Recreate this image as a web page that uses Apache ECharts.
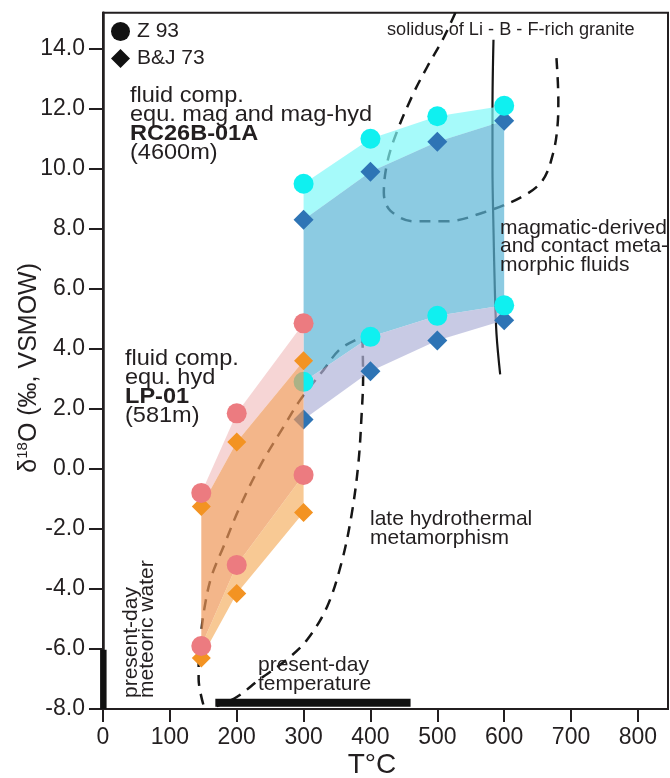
<!DOCTYPE html>
<html>
<head>
<meta charset="utf-8">
<script src="https://cdn.jsdelivr.net/npm/echarts@6/dist/echarts.min.js"></script>
<style>
  html, body { margin: 0; padding: 0; background: #fff; }
  #chart { width: 670px; height: 778px; }
</style>
</head>
<body>
<div id="chart"></div>
<script>
var FONT = 'Liberation Sans, Arial, Helvetica, sans-serif';
var INK = '#231f20';

// LP-01 (581m), fluid equ. hyd
var lpTemp = [147, 200, 300];
var lpZ93Upper = [-0.8, 1.85, 4.85];
var lpZ93Lower = [-5.9, -3.2, -0.2];
var lpBJUpper = [-1.25, 0.9, 3.6];
var lpBJLower = [-6.3, -4.15, -1.45];

// RC26B-01A (4600m), fluid equ. mag and mag-hyd
var rcTemp = [300, 400, 500, 600];
var rcZ93Upper = [9.5, 11.0, 11.75, 12.1];
var rcZ93Lower = [2.9, 4.4, 5.1, 5.45];
var rcBJUpper = [8.3, 9.9, 10.9, 11.6];
var rcBJLower = [1.65, 3.25, 4.28, 4.95];

// reference curves, [T, d18O]
var meteoricCurve = [[150, -7.85], [143, -7.0], [143, -6.4], [146, -5.6], [152, -4.6], [162, -3.6],
  [180, -2.6], [205, -1.25], [235, 0.1], [270, 1.4], [295, 2.3], [330, 3.3], [355, 4.0], [388, 4.4]];
var lateHydroCurve = [[388, 4.4], [389, 3.0], [387, 1.9], [382, 0.2], [372, -1.5], [357, -3.1],
  [335, -4.6], [305, -5.7], [275, -6.35], [235, -7.0], [200, -7.6], [170, -7.9]];
var magmaticCurve = [[527, 15.2], [508, 14.3], [485, 13.4], [464, 12.5], [439, 11.2], [425, 10.2],
  [420, 9.2], [430, 8.6], [465, 8.25], [514, 8.25], [570, 8.55], [625, 9.05], [657, 9.6],
  [673, 10.5], [680, 11.5], [681, 12.3], [678, 13.75]];
var solidusCurve = [[584, 14.3], [582.5, 12], [582.5, 10], [584, 8], [586, 6], [588.5, 4.5], [594, 3.15]];
var meteoricWaterBar = [[0.5, -6.03], [0.5, -8]];
var presentTempBar = [[168, -7.79], [460, -7.79]];

var myChart = echarts.init(document.getElementById('chart'));

function pairs(xs, ys) {
  return xs.map(function (x, i) { return [x, ys[i]]; });
}

function band(xs, upper, lower, color, z) {
  return {
    type: 'custom',
    z: z,
    silent: true,
    data: [[xs[0], upper[0]]],
    renderItem: function (params, api) {
      var top = xs.map(function (x, i) { return api.coord([x, upper[i]]); });
      var bottom = xs.map(function (x, i) { return api.coord([x, lower[i]]); }).reverse();
      return {
        type: 'polygon',
        shape: { points: top.concat(bottom) },
        style: { fill: color }
      };
    }
  };
}

function curve(data, dashed, width) {
  return {
    type: 'line',
    z: 1,
    silent: true,
    data: data,
    symbol: 'none',
    smooth: 0.35,
    lineStyle: { color: '#161616', width: width, type: dashed ? [11, 8] : 'solid', cap: 'butt' }
  };
}

function bar(data, width) {
  return {
    type: 'line',
    z: 1,
    silent: true,
    data: data,
    symbol: 'none',
    lineStyle: { color: '#111', width: width, cap: 'butt' }
  };
}

function markers(data, symbol, size, color, z) {
  return {
    type: 'scatter',
    z: z,
    silent: true,
    data: data,
    symbol: symbol,
    symbolSize: size,
    itemStyle: { color: color, opacity: 1 }
  };
}

function textLines(x, y0, step, lines, size, sx) {
  return lines.map(function (l, i) {
    return {
      type: 'text',
      x: x,
      y: y0 + i * step,
      scaleX: sx || 1,
      z: 100,
      style: {
        text: l.t,
        font: (l.b ? 'bold ' : '') + size + 'px ' + FONT,
        fill: INK,
        textAlign: 'left',
        textVerticalAlign: 'middle',
        verticalAlign: 'middle'
      }
    };
  });
}

var graphics = [].concat(
  textLines(130, 96, 19, [{ t: 'fluid comp.' }, { t: 'equ. mag and mag-hyd' }, { t: 'RC26B-01A', b: true }, { t: '(4600m)' }], 22, 1.07),
  textLines(125, 359, 19, [{ t: 'fluid comp.' }, { t: 'equ. hyd' }, { t: 'LP-01', b: true }, { t: '(581m)' }], 22, 1.07),
  textLines(387, 30, 19, [{ t: 'solidus of Li - B - F-rich granite' }], 18, 1.01),
  textLines(500, 228, 18.5, [{ t: 'magmatic-derived' }, { t: 'and contact meta-' }, { t: 'morphic fluids' }], 21),
  textLines(370, 519.5, 18.5, [{ t: 'late hydrothermal' }, { t: 'metamorphism' }], 21),
  textLines(258, 665, 19, [{ t: 'present-day' }, { t: 'temperature' }], 21),
  ['present-day', 'meteoric water'].map(function (t, i) {
    return {
      type: 'text',
      x: 131.5 + i * 15.5,
      y: 698,
      rotation: Math.PI / 2,
      z: 100,
      style: {
        text: t,
        font: '21px ' + FONT,
        fill: INK,
        textAlign: 'left',
        textVerticalAlign: 'middle',
        verticalAlign: 'middle'
      }
    };
  })
);

var option = {
  animation: false,
  textStyle: { fontFamily: FONT },
  grid: {
    left: 103, right: 2, top: 12.7, bottom: 69,
    containLabel: false,
    outerBoundsMode: 'none',
    show: true, borderColor: INK, borderWidth: 2
  },
  legend: {
    data: [{ name: 'Z 93', icon: 'circle' }, { name: 'B&J 73', icon: 'diamond' }],
    orient: 'vertical',
    left: 111,
    top: 21,
    padding: 0,
    itemWidth: 19,
    itemHeight: 19,
    itemGap: 6,
    selectedMode: false,
    textStyle: { fontSize: 21, color: INK, fontFamily: FONT, padding: [0, 0, 0, 2] }
  },
  xAxis: {
    type: 'value',
    min: 0,
    max: 845,
    interval: 100,
    name: 'T°C',
    nameLocation: 'middle',
    nameGap: 42,
    nameMoveOverlap: false,
    nameTextStyle: { fontSize: 28, color: INK, fontFamily: FONT, padding: [0, 27, 0, 0] },
    axisLine: { onZero: false, lineStyle: { color: INK, width: 2 } },
    axisTick: { length: 13, lineStyle: { color: INK, width: 2 } },
    axisLabel: { fontSize: 23, color: INK, margin: 17, showMaxLabel: false },
    splitLine: { show: false }
  },
  yAxis: {
    type: 'value',
    min: -8,
    max: 15.2,
    interval: 2,
    name: '{a|δ}{s|18}{a|O (‰, VSMOW)}',
    nameLocation: 'middle',
    nameRotate: 90,
    nameGap: 60,
    nameMoveOverlap: false,
    nameTextStyle: {
      color: INK,
      padding: [0, 14, 0, 0],
      rich: {
        a: { fontSize: 25, fontFamily: FONT, color: INK, lineHeight: 28 },
        s: { fontSize: 15, fontFamily: FONT, color: INK, lineHeight: 15, verticalAlign: 'top' }
      }
    },
    axisLine: { onZero: false, lineStyle: { color: INK, width: 2.5 } },
    axisTick: { length: 14, lineStyle: { color: INK, width: 2 } },
    axisLabel: {
      fontSize: 23, color: INK, margin: 18, showMaxLabel: false,
      formatter: function (v) { return v.toFixed(1); }
    },
    splitLine: { show: false }
  },
  graphic: graphics,
  series: [
    { name: 'Z 93', type: 'scatter', data: [], itemStyle: { color: '#111', opacity: 1 } },
    { name: 'B&J 73', type: 'scatter', data: [], itemStyle: { color: '#111', opacity: 1 } },

    curve(meteoricCurve, true, 2.5),
    curve(lateHydroCurve, true, 2.5),
    curve(magmaticCurve, true, 2.5),
    curve(solidusCurve, false, 2.2),
    bar(meteoricWaterBar, 6.5),
    bar(presentTempBar, 8),

    band(rcTemp, rcZ93Upper, rcBJUpper, 'rgba(128,248,248,0.7)', 2),
    band(rcTemp, rcBJUpper, rcZ93Lower, 'rgba(91,181,214,0.7)', 2),
    band(rcTemp, rcZ93Lower, rcBJLower, 'rgba(176,179,216,0.7)', 2),
    markers(pairs(rcTemp, rcBJUpper).concat(pairs(rcTemp, rcBJLower)), 'diamond', 20, '#2e74b5', 3),
    markers(pairs(rcTemp, rcZ93Upper).concat(pairs(rcTemp, rcZ93Lower)), 'circle', 20, '#0ff0f0', 3),

    band(lpTemp, lpZ93Upper, lpBJUpper, 'rgba(242,195,195,0.7)', 4),
    band(lpTemp, lpBJUpper, lpZ93Lower, 'rgba(238,151,89,0.7)', 4),
    band(lpTemp, lpZ93Lower, lpBJLower, 'rgba(245,178,102,0.7)', 4),
    markers(pairs(lpTemp, lpBJUpper).concat(pairs(lpTemp, lpBJLower)), 'diamond', 19, '#f39322', 5),
    markers(pairs(lpTemp, lpZ93Upper).concat(pairs(lpTemp, lpZ93Lower)), 'circle', 20, '#ec7b80', 5)
  ]
};

myChart.setOption(option);
</script>
</body>
</html>
